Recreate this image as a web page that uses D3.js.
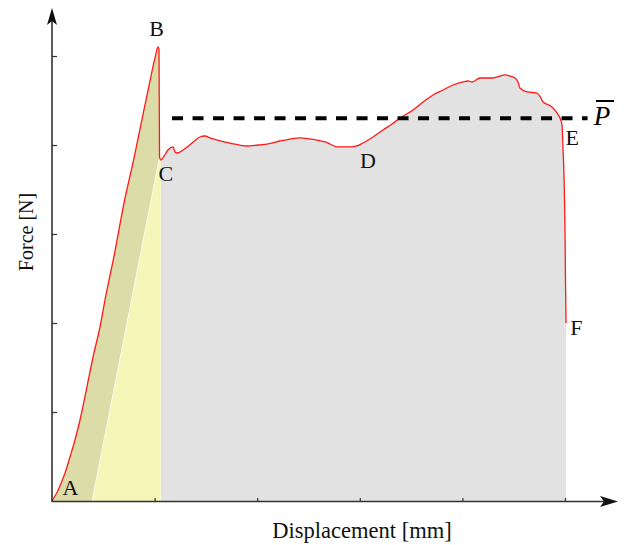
<!DOCTYPE html>
<html><head><meta charset="utf-8">
<script src="https://cdn.jsdelivr.net/npm/d3@7"></script>
<style>body{margin:0;background:#fff}svg{display:block}text{font-family:"Liberation Serif","Times New Roman",serif}</style>
</head><body><svg id="c" width="624" height="545"></svg>
<script>
// Force–displacement curve (data units; x ticks 1..5, y ticks 1..5)
const dispX = [0,0.029,0.061,0.093,0.127,0.175,0.224,0.273,0.315,0.354,0.400,0.468,0.526,0.597,0.708,0.795,0.866,0.945,1.004,1.033,1.043,1.048,1.062,1.092,1.131,1.179,1.199,1.218,1.277,1.365,1.442,1.491,1.540,1.637,1.735,1.901,2.008,2.096,2.222,2.320,2.417,2.515,2.583,2.661,2.710,2.778,2.856,2.904,2.973,3.031,3.129,3.226,3.314,3.392,3.519,3.616,3.713,3.811,3.908,4.006,4.055,4.094,4.172,4.240,4.298,4.366,4.415,4.464,4.513,4.542,4.561,4.630,4.727,4.766,4.786,4.844,4.873,4.922,4.951,4.971,4.981,4.990,5.000,5.005,5.010];
const forceY = [0,0.056,0.124,0.213,0.315,0.494,0.685,0.910,1.135,1.360,1.618,1.955,2.315,2.708,3.382,3.831,4.225,4.663,4.978,5.101,5.067,3.865,3.831,3.876,3.944,3.978,3.921,3.910,3.944,4.022,4.090,4.101,4.079,4.045,4.022,3.989,4.000,4.011,4.045,4.067,4.079,4.067,4.056,4.034,4.011,3.978,3.978,3.978,3.989,4.022,4.090,4.169,4.236,4.303,4.393,4.483,4.562,4.618,4.674,4.708,4.719,4.708,4.753,4.753,4.753,4.775,4.787,4.775,4.753,4.708,4.640,4.596,4.584,4.528,4.483,4.449,4.427,4.360,4.303,4.225,3.944,3.663,3.045,2.449,2.000];
const xTicks = [1,2,3,4,5];
const yTicks = [1,2,3,4,5];
const pointLabels = ["A","B","C","D","E","F"];
const pointX = [0.18,1.02,1.11,3.08,5.07,5.11];
const pointY = [0.07,5.22,3.60,3.74,4.00,1.86];
const meanForce = 4.30;          // P-bar level
const meanStart = 1.17, meanEnd = 5.22;
const unloadX0 = 0.39;           // intercept of elastic unloading line
const cIdx = 21;                 // index of C in the curve
const xTitle = "Displacement [mm]";
const yTitle = "Force [N]";

const svg = d3.select("#c");
const x = d3.scaleLinear().domain([0,5]).range([52,565]);
const y = d3.scaleLinear().domain([0,5]).range([501,56]);
const pts = dispX.map((d,i)=>[d,forceY[i]]);
const line = d3.line().x(d=>x(d[0])).y(d=>y(d[1]));
const sline = d3.line().x(d=>x(d[0])).y(d=>y(d[1])).curve(d3.curveMonotoneX);
const cont = s => "L" + s.slice(1);

const cX = dispX[cIdx] + 0.012;
const last = dispX.length-1;
// gray region (C -> F)
const grayD = `M${x(cX)},${y(0)}L${x(cX)},${y(forceY[cIdx])}` + cont(sline(pts.slice(cIdx+1))) + `L${x(dispX[last])},${y(0)}Z`;
svg.append("path").attr("d", grayD).attr("fill","#e2e2e2");
// yellow region
const yelPts = [[unloadX0,0],[dispX[cIdx],forceY[cIdx]],[cX,forceY[cIdx]-0.03],[cX,0]];
svg.append("path").attr("d", line(yelPts)+"Z").attr("fill","#f6f6b9");
// olive region A-B-C
const olD = sline(pts.slice(0,cIdx+1)) + `L${x(unloadX0)},${y(0)}Z`;
svg.append("path").attr("d", olD).attr("fill","#dcdca8");
// separator line
svg.append("path").attr("d", line([[unloadX0,0],[dispX[cIdx],forceY[cIdx]]])).attr("stroke","#fff").attr("stroke-opacity",0.7).attr("stroke-width",1).attr("fill","none");

// curve
svg.append("path").attr("d", sline(pts)).attr("fill","none").attr("stroke","#ff1a1a").attr("stroke-width",1.3);

// mean line
svg.append("line").attr("x1",x(meanStart)).attr("x2",x(meanEnd)).attr("y1",y(meanForce)).attr("y2",y(meanForce))
  .attr("stroke","#000").attr("stroke-width",4).attr("stroke-dasharray","11,9.5");

// axes
const axCol = "#333";
const gx = svg.append("g").attr("transform",`translate(0,${y(0)})`)
  .call(d3.axisBottom(x).tickValues(xTicks).tickSize(-3).tickFormat(""));
const gy = svg.append("g").attr("transform",`translate(${x(0)},0)`)
  .call(d3.axisLeft(y).tickValues(yTicks).tickSize(-5).tickFormat(""));
[gx,gy].forEach(g=>{g.select(".domain").remove();g.selectAll("line").attr("stroke",axCol).attr("stroke-width",1.2);});
svg.append("line").attr("x1",x(0)).attr("x2",604).attr("y1",y(0)+0.5).attr("y2",y(0)+0.5).attr("stroke",axCol).attr("stroke-width",1.6);
svg.append("line").attr("x1",x(0)).attr("x2",x(0)).attr("y1",y(0)+1).attr("y2",18).attr("stroke",axCol).attr("stroke-width",1.6);
svg.append("path").attr("d",`M618,${y(0)+0.5} L600,${y(0)-5} L604,${y(0)+0.5} L600,${y(0)+6} Z`).attr("fill","#111");
svg.append("path").attr("d",`M${x(0)},8 L${x(0)-5},25 L${x(0)},21 L${x(0)+5},25 Z`).attr("fill","#111");

// point labels
svg.selectAll("text.pl").data(pointLabels).enter().append("text").attr("class","pl")
  .attr("x",(d,i)=>x(pointX[i])).attr("y",(d,i)=>y(pointY[i])).attr("text-anchor","middle")
  .attr("font-size",22).attr("fill","#111").text(d=>d);

// P-bar
svg.append("text").attr("x",602).attr("y",125).attr("text-anchor","middle").attr("font-size",27)
  .attr("font-style","italic").attr("fill","#000").text("P");
svg.append("line").attr("x1",596).attr("x2",614).attr("y1",101).attr("y2",101).attr("stroke","#000").attr("stroke-width",2);

// titles
svg.append("text").attr("x",362).attr("y",538).attr("text-anchor","middle").attr("font-size",22.5).attr("fill","#111").text(xTitle);
svg.append("text").attr("transform","translate(33,232) rotate(-90)").attr("text-anchor","middle").attr("font-size",20).attr("fill","#111").text(yTitle);
</script></body></html>
